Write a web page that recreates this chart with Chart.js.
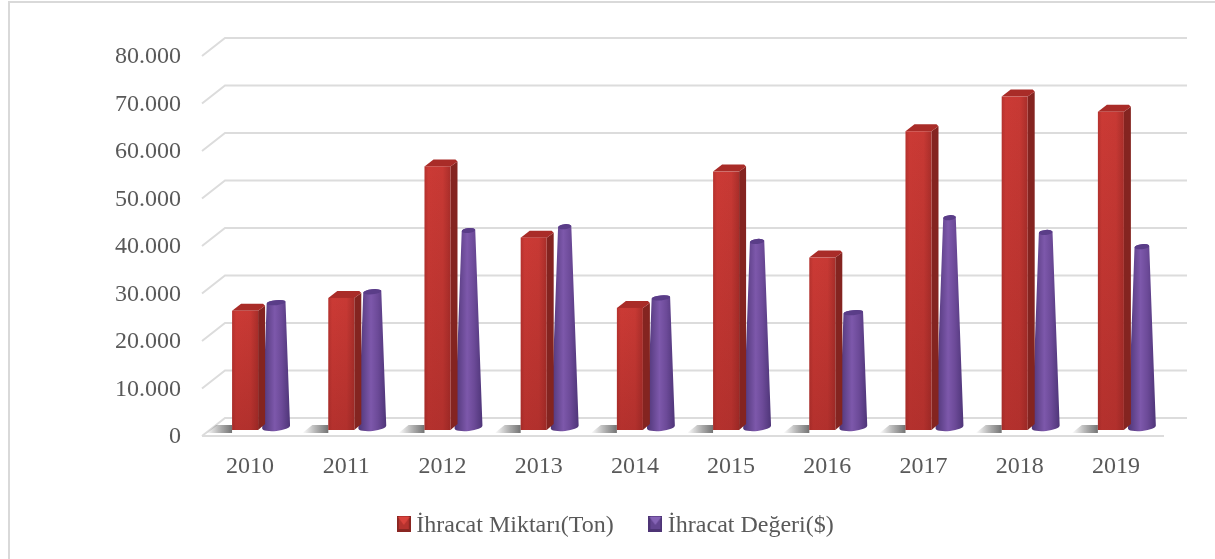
<!DOCTYPE html>
<html>
<head>
<meta charset="utf-8">
<style>
  html, body { margin: 0; padding: 0; background: #fff; }
  #wrap { position: relative; width: 1215px; height: 559px; overflow: hidden; }
  #frame { position: absolute; left: 8px; top: 1px; right: -5px; bottom: -5px; border: 2px solid #d9d9d9; }
  #chart { filter: blur(0.5px); }
</style>
<script src="https://cdn.jsdelivr.net/npm/chart.js@4"></script>
</head>
<body>
<div id="wrap">
  <div id="frame"></div>
  <canvas id="chart" width="1215" height="559"></canvas>
</div>
<script>
const years = ["2010", "2011", "2012", "2013", "2014", "2015", "2016", "2017", "2018", "2019"];
const miktar = [25100, 27800, 55500, 40500, 25700, 54400, 36300, 62900, 70200, 67000];
const deger = [26800, 29100, 42000, 42800, 27800, 39700, 24700, 44700, 41600, 38600];

const GRID = "#dcdcdc";
const TEXT = "#595959";
const FONT = "'Liberation Serif', serif";

// offsets of the fake 3D view, all relative to the front of the floor
const BACK_DX = 23;
const BACK_DY = -19;
const BAR_DX = 11;
const BAR_DY = -7;
const LEGEND_TOP = 473;

function drawWalls(chart) {
  const { ctx, scales: { x, y } } = chart;
  const left = x.left;
  const right = x.right;
  const bottom = y.getPixelForValue(0);

  ctx.save();
  ctx.strokeStyle = GRID;
  ctx.lineWidth = 2;
  y.ticks.forEach((t) => {
    const py = y.getPixelForValue(t.value);
    ctx.beginPath();
    ctx.moveTo(left, py - 1);
    ctx.lineTo(left + BACK_DX, py + BACK_DY);
    ctx.lineTo(right + BACK_DX, py + BACK_DY);
    ctx.stroke();
  });
  ctx.beginPath();
  ctx.moveTo(left, bottom - 1);
  ctx.lineTo(right, bottom - 1);
  ctx.stroke();
  ctx.restore();
}

function drawShadow(ctx, xr, base) {
  const g = ctx.createLinearGradient(xr - 26, 0, xr, 0);
  g.addColorStop(0, "rgba(110,110,110,0)");
  g.addColorStop(0.6, "rgba(110,110,110,0.6)");
  g.addColorStop(1, "rgba(100,100,100,0.9)");
  ctx.fillStyle = g;
  ctx.beginPath();
  ctx.moveTo(xr - 26, base + 3);
  ctx.lineTo(xr - 16, base - 5);
  ctx.lineTo(xr, base - 5);
  ctx.lineTo(xr, base + 3);
  ctx.closePath();
  ctx.fill();
}

function drawBox(ctx, bar) {
  const w = 26;
  const xl = bar.x + BAR_DX - 14;
  const xr = xl + w;
  const top = bar.y + BAR_DY;
  const base = bar.base + BAR_DY;
  const dx = 7;
  const dy = 7;

  drawShadow(ctx, xl, base);

  // side
  ctx.fillStyle = "#842420";
  ctx.beginPath();
  ctx.moveTo(xr, top);
  ctx.lineTo(xr + dx, top - dy + 2);
  ctx.lineTo(xr + dx, base - 6);
  ctx.lineTo(xr, base);
  ctx.closePath();
  ctx.fill();

  // top
  ctx.fillStyle = "#a92c28";
  ctx.beginPath();
  ctx.moveTo(xl, top);
  ctx.lineTo(xl + 9, top - dy);
  ctx.lineTo(xr + dx - 2, top - dy);
  ctx.lineTo(xr + dx, top - dy + 2);
  ctx.lineTo(xr, top);
  ctx.closePath();
  ctx.fill();

  // front
  const g = ctx.createLinearGradient(xl, 0, xr, 0);
  g.addColorStop(0, "#b5322e");
  g.addColorStop(0.15, "#cb3a35");
  g.addColorStop(0.7, "#c73934");
  g.addColorStop(1, "#a92e2a");
  const v = ctx.createLinearGradient(0, top, 0, base);
  ctx.fillStyle = g;
  ctx.fillRect(xl, top, w, base - top);
  v.addColorStop(0, "rgba(120,25,25,0)");
  v.addColorStop(1, "rgba(120,25,25,0.28)");
  ctx.fillStyle = v;
  ctx.fillRect(xl, top, w, base - top);
}

function drawCone(ctx, bar, fullHeight) {
  const cx = bar.x + BAR_DX;
  const top = bar.y + BAR_DY;
  const base = bar.base + BAR_DY - 3;
  const rBase = 14;
  const rTop = rBase * (1 - (base - top) / fullHeight);
  const tilt = -0.1;

  const g = ctx.createLinearGradient(cx - rBase, 0, cx + rBase, 0);
  g.addColorStop(0, "#4d3475");
  g.addColorStop(0.45, "#7d58ab");
  g.addColorStop(0.7, "#6c4a98");
  g.addColorStop(1, "#4e3578");
  ctx.fillStyle = g;
  ctx.beginPath();
  ctx.ellipse(cx, base, rBase, 4, tilt, 0, Math.PI);
  ctx.lineTo(cx - rTop, top);
  ctx.ellipse(cx, top, rTop, 2.5, tilt, Math.PI, Math.PI * 2);
  ctx.lineTo(cx + rBase, base);
  ctx.closePath();
  ctx.fill();

  ctx.fillStyle = "#5a3d88";
  ctx.beginPath();
  ctx.ellipse(cx, top, rTop, 2.5, tilt, 0, Math.PI * 2);
  ctx.fill();
}

// bars come from the library's own elements, only their look is replaced
const bars3d = {
  id: "bars3d",
  afterLayout(chart) {
    // labels.padding sets the gap between items, but also pushes the legend down
    chart.legend.top = LEGEND_TOP;
  },
  beforeDatasetsDraw(chart) {
    drawWalls(chart);
  },
  beforeDatasetDraw(chart, args) {
    const ctx = chart.ctx;
    const fullHeight = chart.scales.y.height;
    ctx.save();
    args.meta.data.forEach((bar) => {
      if (args.index === 0) drawBox(ctx, bar);
      else drawCone(ctx, bar, fullHeight);
    });
    ctx.restore();
    return false;
  },
};

function legendSwatch(top, mid, side) {
  // 4px of empty space below lifts the square to the reference's position
  const c = document.createElement("canvas");
  c.width = 14;
  c.height = 20;
  const g = c.getContext("2d");
  g.fillStyle = mid;
  g.fillRect(0, 0, 14, 16);
  g.fillStyle = side;
  g.fillRect(0, 13, 14, 3);
  g.fillRect(0, 0, 2, 16);
  g.fillRect(12, 0, 2, 16);
  g.fillStyle = top;
  g.beginPath();
  g.moveTo(1, 1);
  g.lineTo(13, 1);
  g.lineTo(7, 9);
  g.closePath();
  g.fill();
  return c;
}

new Chart(document.getElementById("chart"), {
  type: "bar",
  data: {
    labels: years,
    datasets: [
      {
        label: "İhracat Miktarı(Ton)",
        data: miktar,
        backgroundColor: "#c73934",
        pointStyle: legendSwatch("#d8423c", "#b5322e", "#8a2622"),
      },
      {
        label: "İhracat Değeri($)",
        data: deger,
        backgroundColor: "#6c4a98",
        pointStyle: legendSwatch("#8563b5", "#634590", "#4d3475"),
      },
    ],
  },
  options: {
    responsive: false,
    animation: false,
    events: [],
    layout: { padding: { left: 73, right: 51, top: 57, bottom: 0 } },
    datasets: { bar: { barPercentage: 1, categoryPercentage: 0.624 } },
    plugins: {
      tooltip: { enabled: false },
      legend: {
        position: "bottom",
        labels: {
          usePointStyle: true,
          pointStyleWidth: 1,
          color: TEXT,
          font: { family: FONT, size: 24 },
          padding: 41,
        },
      },
    },
    scales: {
      x: {
        grid: { display: false },
        border: { display: false },
        afterFit(s) { s.height = 47; },
        ticks: { color: TEXT, font: { family: FONT, size: 24 }, padding: 7, maxRotation: 0 },
      },
      y: {
        min: 0,
        max: 80000,
        grid: { display: false },
        border: { display: false },
        afterFit(s) { s.width = 129; },
        ticks: {
          stepSize: 10000,
          color: TEXT,
          font: { family: FONT, size: 24 },
          padding: 13,
          callback: (v) => String(v).replace(/(\d)(\d{3})$/, "$1.$2"),
        },
      },
    },
  },
  plugins: [bars3d],
});
</script>
</body>
</html>
